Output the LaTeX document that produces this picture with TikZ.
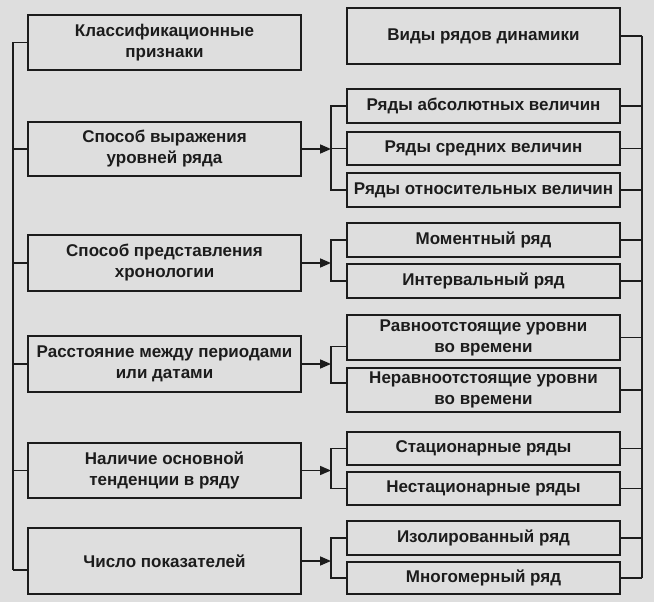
\documentclass[tikz,border=0pt]{standalone}
\usepackage{fontspec}
\setmainfont{Liberation Sans}
\usetikzlibrary{arrows.meta}
\definecolor{bg}{RGB}{222,222,222}
\definecolor{ink}{RGB}{28,28,28}
\begin{document}
\begin{tikzpicture}[x=1pt,y=-1pt,
  box/.style={draw=ink,line width=1.9pt,rectangle,minimum width=273pt,align=center,inner sep=0pt,font=\fontsize{17}{21}\selectfont\bfseries,text=ink},
  ln/.style={draw=ink,line width=1.6pt},
  arr/.style={ln,-{Triangle[length=11pt,width=9pt]}}]
\fill[bg] (0,0) rectangle (654,602);
\useasboundingbox (0,0) rectangle (654,602);
% left boxes
\node[box,minimum height=55pt] (L1) at (164.5,42.5) {Классификационные\\признаки};
\node[box,minimum height=54pt] (L2) at (164.5,149) {Способ выражения\\уровней ряда};
\node[box,minimum height=56pt] (L3) at (164.5,263) {Способ представления\\хронологии};
\node[box,minimum height=56pt] (L4) at (164.5,364) {Расстояние между периодами\\или датами};
\node[box,minimum height=55pt] (L5) at (164.5,470.5) {Наличие основной\\тенденции в ряду};
\node[box,minimum height=66pt] (L6) at (164.5,561) {Число показателей};
% right boxes
\node[box,minimum height=56pt] (V) at (483.5,36) {Виды рядов динамики};
\node[box,minimum height=34pt] (R1) at (483.5,106) {Ряды абсолютных величин};
\node[box,minimum height=33pt] (R2) at (483.5,148.5) {Ряды средних величин};
\node[box,minimum height=34pt] (R3) at (483.5,190) {Ряды относительных величин};
\node[box,minimum height=34pt] (R4) at (483.5,240) {Моментный ряд};
\node[box,minimum height=34pt] (R5) at (483.5,281) {Интервальный ряд};
\node[box,minimum height=45pt] (R6) at (483.5,337.5) {Равноотстоящие уровни\\во времени};
\node[box,minimum height=44pt] (R7) at (483.5,390) {Неравноотстоящие уровни\\во времени};
\node[box,minimum height=33pt] (R8) at (483.5,448.5) {Стационарные ряды};
\node[box,minimum height=33pt] (R9) at (483.5,488.5) {Нестационарные ряды};
\node[box,minimum height=34pt] (R10) at (483.5,538) {Изолированный ряд};
\node[box,minimum height=32pt] (R11) at (483.5,578) {Многомерный ряд};
% bus coordinates
\coordinate (lbus) at (13,0);
\coordinate (rbus) at (642,0);
\coordinate (br) at (331,0);
\coordinate (l6s) at ([yshift=-9pt]L6.west);
\coordinate (r6s) at ([yshift=-9pt]R6.west);
\coordinate (r7s) at ([yshift=7pt]R7.west);
% left bus
\draw[ln] (L1.west -| lbus) -- (l6s -| lbus);
\foreach \n in {L1,L2,L3,L4,L5} \draw[ln] (\n.west) -- (\n.west -| lbus);
\draw[ln] (l6s) -- (l6s -| lbus);
% right bus
\draw[ln] (V.east -| rbus) -- (R11.east -| rbus);
\foreach \n in {V,R1,R2,R3,R4,R5,R6,R7,R8,R9,R10,R11} \draw[ln] (\n.east) -- (\n.east -| rbus);
% arrows
\foreach \n in {L2,L3,L4,L5,L6} \draw[arr] (\n.east) -- (\n.east -| br);
% branches
\draw[ln] (R1.west) -- (R1.west -| br) -- (R3.west -| br) -- (R3.west);
\draw[ln] (R2.west) -- (R2.west -| br);
\draw[ln] (R4.west) -- (R4.west -| br) -- (R5.west -| br) -- (R5.west);
\draw[ln] (r6s) -- (r6s -| br) -- (r7s -| br) -- (r7s);
\draw[ln] (R8.west) -- (R8.west -| br) -- (R9.west -| br) -- (R9.west);
\draw[ln] (R10.west) -- (R10.west -| br) -- (R11.west -| br) -- (R11.west);
\end{tikzpicture}
\end{document}
